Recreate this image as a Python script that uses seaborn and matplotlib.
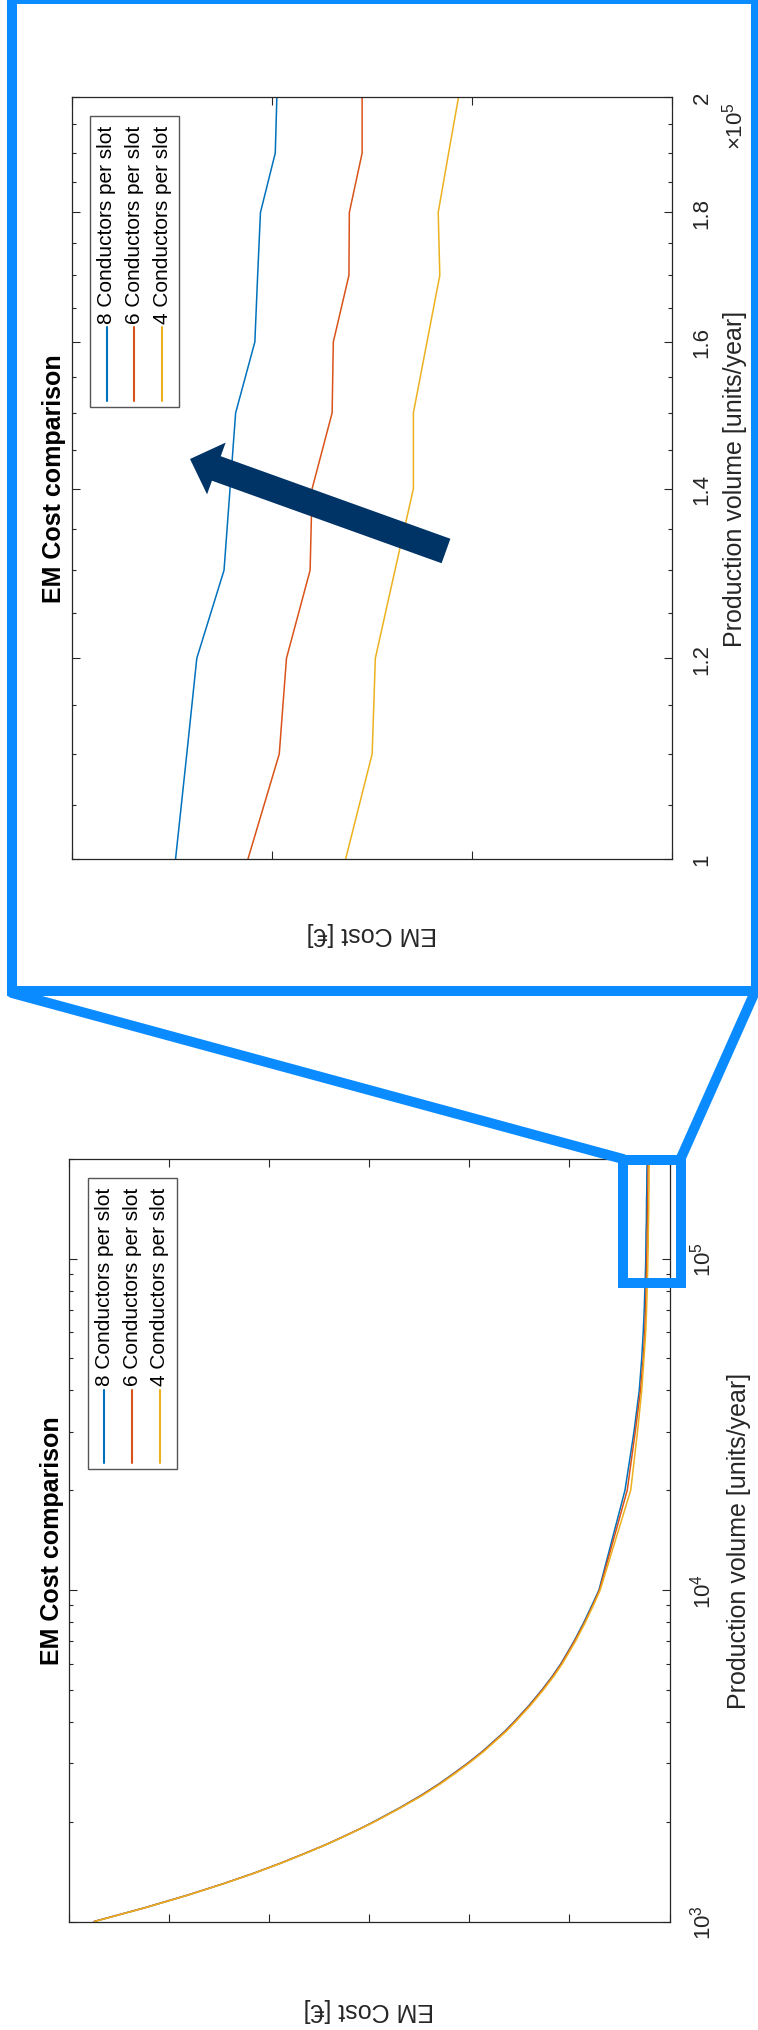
import matplotlib
matplotlib.use("Agg")
import numpy as np
import pandas as pd
import matplotlib.pyplot as plt
import seaborn as sns
from matplotlib import ticker
from matplotlib.transforms import Affine2D
from matplotlib.patches import Rectangle, FancyArrow
from matplotlib.lines import Line2D

# ---------------- data ----------------
volumes = [1000, 1100, 1200, 1300, 1400, 1500, 1600, 1700, 1800, 1900,
           2000, 2200, 2400, 2600, 2800, 3000, 3250, 3500, 3750,
           4000, 4500, 5000, 5500, 6000, 7000, 8000, 9000, 10000,
           20000, 30000, 40000, 50000, 60000, 70000, 80000, 90000,
           100000, 110000, 120000, 130000, 140000, 150000, 160000,
           170000, 180000, 190000, 200000]
cost_8 = [1150, 1049, 964, 892, 830, 777, 731, 689, 653, 620,
          591, 540, 497, 461, 431, 404, 375, 351, 329,
          311, 280, 255, 234, 217, 191, 171, 155, 141,
          89, 71, 60.5, 55.5, 52.5, 50.5, 49.3, 48.2,
          47.40, 47.12, 46.87, 46.19, 46.04, 45.90, 45.42,
          45.35, 45.28, 44.91, 44.87]
cost_6 = [1150, 1049, 964, 892, 830, 777, 731, 689, 653, 620,
          590, 539, 496, 460, 430, 403, 374, 350, 328,
          310, 279, 254, 233, 216, 190, 169.5, 153.5, 140,
          84.5, 68.5, 58, 52.5, 49.5, 48, 47, 46.2,
          45.59, 44.81, 44.63, 44.04, 43.99, 43.49, 43.46,
          43.07, 43.06, 42.74, 42.74]
cost_4 = [1149, 1048, 963, 891, 829, 776, 730, 688, 652, 619,
          589, 538, 494, 458, 428, 401, 372, 348, 326,
          308, 277, 252, 231, 214, 188, 168, 152, 138.5,
          77.5, 64, 55.5, 51, 47.5, 45.8, 44.7, 43.8,
          43.15, 42.49, 42.41, 41.92, 41.46, 41.46, 41.12,
          40.80, 40.84, 40.58, 40.33]
series_names = ["8 Conductors per slot", "6 Conductors per slot", "4 Conductors per slot"]
series_colors = ["#0072BD", "#D95319", "#EDB120"]

title_text = "EM Cost comparison"
xlabel_text = "Production volume [units/year]"
ylabel_text = "EM Cost [€]"

overview_cost_lim = (1200, 0)
overview_cost_ticks = [0, 200, 400, 600, 800, 1000, 1200]
overview_volume_lim = (1e3, 2e5)

zoom_cost_lim = (50, 35)
zoom_cost_ticks = [35, 40, 45, 50]
zoom_volume_lim = (1e5, 2e5)
zoom_volume_ticks = [1.0e5, 1.2e5, 1.4e5, 1.6e5, 1.8e5, 2.0e5]
zoom_volume_ticklabels = ["1", "1.2", "1.4", "1.6", "1.8", "2"]
zoom_volume_minor = [1.05e5, 1.10e5, 1.15e5, 1.25e5, 1.30e5, 1.35e5,
                     1.45e5, 1.50e5, 1.55e5, 1.65e5, 1.70e5, 1.75e5,
                     1.85e5, 1.90e5, 1.95e5]

df = pd.concat([
    pd.DataFrame({"volume": volumes, "cost": c, "series": n})
    for c, n in zip([cost_8, cost_6, cost_4], series_names)
], ignore_index=True)

# ---------------- style ----------------
sns.set_theme(style="white")
plt.rcParams["font.family"] = ["Liberation Sans", "DejaVu Sans"]
plt.rcParams["mathtext.fontset"] = "custom"
plt.rcParams["mathtext.rm"] = "Liberation Sans"
plt.rcParams["mathtext.it"] = "Liberation Sans:italic"
plt.rcParams["mathtext.bf"] = "Liberation Sans:bold"

W, H = 758, 2031
fig = plt.figure(figsize=(W / 100, H / 100), dpi=100)
fig.patch.set_facecolor("white")
px = Affine2D().scale(1 / W, -1 / H).translate(0, 1) + fig.transFigure

AX_COL = "#262626"
FRAME_BLUE = "#0A8BFF"


def rect_from_px(L, T, R, B):
    return [L / W, 1 - B / H, (R - L) / W, (B - T) / H]


panels = {
    "zoom": dict(L=71.5, T=97.6, R=672.0, B=859.7,
                 title_x=-0.0298, ylab_x=1.0844, xlab_y=-0.0818),
    "overview": dict(L=69.1, T=1159.8, R=669.5, B=1922.5,
                     title_x=-0.0293, ylab_x=1.0957, xlab_y=-0.099),
}


def build_axes(p):
    ax = fig.add_axes(rect_from_px(p["L"], p["T"], p["R"], p["B"]))
    ax.set_facecolor("white")
    sns.lineplot(data=df, x="cost", y="volume", hue="series",
                 hue_order=series_names, palette=series_colors,
                 estimator=None, orient="y", linewidth=1.1,
                 legend=False, ax=ax)
    ax.set_yscale("log")
    for s in ax.spines.values():
        s.set_color(AX_COL)
        s.set_linewidth(0.9)
    ax.set_xlabel(ylabel_text, fontsize=18, rotation=180, color=AX_COL)
    ax.xaxis.set_label_coords(0.5, p["xlab_y"])
    ax.yaxis.set_label_position("right")
    ax.set_ylabel(xlabel_text, fontsize=18, rotation=90, color=AX_COL)
    ax.yaxis.set_label_coords(p["ylab_x"], 0.5)
    ax.text(p["title_x"], 0.5, title_text, transform=ax.transAxes,
            rotation=90, ha="center", va="center", fontsize=18,
            fontweight="bold", color="black")
    return ax


def style_ticks(ax):
    ax.tick_params(axis="both", which="both", direction="in",
                   top=True, bottom=True, left=True, right=True,
                   labelleft=False, labelbottom=False, labeltop=False,
                   labelright=True, color=AX_COL, labelcolor=AX_COL,
                   width=0.8)
    ax.tick_params(axis="x", which="major", length=6)
    ax.tick_params(axis="y", which="major", length=5.5, pad=14.2,
                   labelsize=16, labelrotation=90)
    ax.tick_params(axis="y", which="minor", length=3.1)
    for lab in ax.get_yticklabels():
        lab.set_va("center")
        lab.set_ha("left")


def add_legend(p):
    L, T = p["L"], p["T"]
    fig.patches.append(Rectangle((L + 18.8, T + 19.6), 88.9, 290.5,
                                 transform=px, facecolor="white",
                                 edgecolor="#555555", linewidth=1.0,
                                 zorder=3))
    for xo, name, col in zip([35.3, 62.9, 90.7], series_names, series_colors):
        fig.lines.append(Line2D([L + xo, L + xo], [T + 230.8, T + 304.0],
                                transform=px, color=col, linewidth=1.5,
                                zorder=4))
        fig.text(L + xo, T + 226.3, name, transform=px, rotation=90,
                 ha="center", va="bottom", fontsize=15, color="black",
                 zorder=4)


# ---- zoomed panel (top) ----
pz = panels["zoom"]
axz = build_axes(pz)
axz.set_xlim(*zoom_cost_lim)
axz.set_ylim(*zoom_volume_lim)
axz.xaxis.set_major_locator(ticker.FixedLocator(zoom_cost_ticks))
axz.yaxis.set_major_locator(ticker.FixedLocator(zoom_volume_ticks))
axz.yaxis.set_major_formatter(ticker.FixedFormatter(zoom_volume_ticklabels))
axz.yaxis.set_minor_locator(ticker.FixedLocator(zoom_volume_minor))
axz.yaxis.set_minor_formatter(ticker.NullFormatter())
style_ticks(axz)
add_legend(pz)
fig.text(735, 126, r"$\times10^{5}$", transform=px, rotation=90,
         ha="center", va="center", fontsize=16, color=AX_COL)

# ---- overview panel (bottom) ----
po = panels["overview"]
axo = build_axes(po)
axo.set_xlim(*overview_cost_lim)
axo.set_ylim(*overview_volume_lim)
axo.xaxis.set_major_locator(ticker.FixedLocator(overview_cost_ticks))
axo.yaxis.set_major_locator(ticker.LogLocator(base=10))
axo.yaxis.set_major_formatter(ticker.LogFormatterSciNotation())
axo.yaxis.set_minor_locator(ticker.LogLocator(base=10, subs=np.arange(2, 10)))
axo.yaxis.set_minor_formatter(ticker.NullFormatter())
style_ticks(axo)
add_legend(po)

# ---- zoom annotation: frame, small box, connectors, arrow ----
fig.patches.append(Rectangle((11.6, 0), 756 - 11.6, 992, transform=px,
                             fill=False, edgecolor=FRAME_BLUE,
                             linewidth=7.2, zorder=5))
fig.patches.append(Rectangle((623, 1160.6), 57.5, 123.4, transform=px,
                             fill=False, edgecolor=FRAME_BLUE,
                             linewidth=7.2, zorder=5))
fig.lines.append(Line2D([12, 623], [994, 1160], transform=px,
                        color=FRAME_BLUE, linewidth=7.2,
                        solid_capstyle="round", zorder=5))
fig.lines.append(Line2D([754, 680.5], [995, 1160], transform=px,
                        color=FRAME_BLUE, linewidth=7.2,
                        solid_capstyle="round", zorder=5))
fig.patches.append(FancyArrow(446, 552, 190 - 446, 460 - 552, width=26,
                              head_width=55, head_length=28,
                              length_includes_head=True, transform=px,
                              facecolor="#003366", edgecolor="none",
                              zorder=6))

fig.savefig("out.png", dpi=100, facecolor="white")
